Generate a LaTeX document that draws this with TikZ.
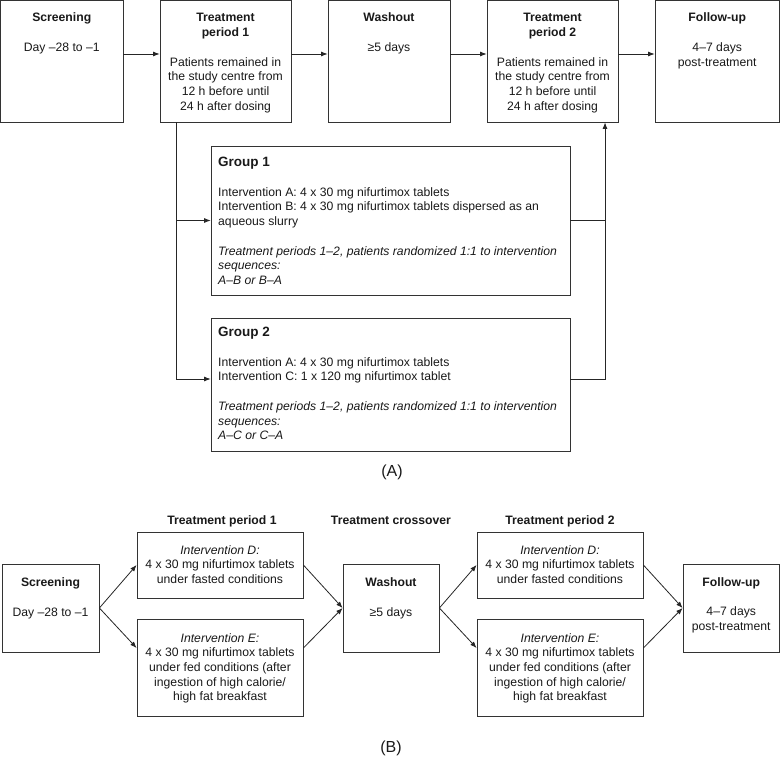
\documentclass[tikz,border=0pt]{standalone}
\usepackage{fontspec}
\setmainfont{Liberation Sans}
\usetikzlibrary{arrows.meta}
\tikzset{
  box/.style={draw=black!80, line width=0.8pt, inner sep=0pt},
  ln/.style={draw=black!85, line width=0.8pt},
  arr/.style={ln, -{Latex[length=6.5pt,width=5pt]}},
  txt/.style={font=\fontsize{12.2}{14.7}\selectfont, anchor=base, align=center, inner sep=0pt, text=black!90},
  ttl/.style={txt, font=\bfseries\fontsize{12.2}{14.7}\selectfont},
  lbl/.style={font=\fontsize{16}{18}\selectfont, anchor=base, inner sep=0pt, text=black!90},
}
\begin{document}
\begin{tikzpicture}[x=1pt,y=-1pt]
\useasboundingbox (0,0) rectangle (780,757);
% multi-line text nodes are placed at the baseline of their LAST line
% ---------- (A) top row ----------
\node[box, minimum width=122.5pt, minimum height=121.5pt] (scr) at (61.75,61.25) {};
\node[box, minimum width=131pt, minimum height=121.5pt] (tp1) at (225.5,61.25) {};
\node[box, minimum width=122pt, minimum height=121.5pt] (wash) at (389,61.25) {};
\node[box, minimum width=131pt, minimum height=121.5pt] (tp2) at (552.5,61.25) {};
\node[box, minimum width=124.5pt, minimum height=121.5pt] (fu) at (717.25,61.25) {};

\node[ttl] (scrT) at (61.75,22) {Screening};
\node[txt] (scrD) at (61.75,52) {Day –28 to –1};
\node[ttl] (tp1T) at (225.5,36.7) {Treatment\\period 1};
\node[txt] (tp1D) at (225.5,110.3) {Patients remained in\\the study centre from\\12 h before until\\24 h after dosing};
\node[ttl] (washT) at (389,22) {Washout};
\node[txt] (washD) at (389,52) {≥5 days};
\node[ttl] (tp2T) at (552.5,36.7) {Treatment\\period 2};
\node[txt] (tp2D) at (552.5,110.3) {Patients remained in\\the study centre from\\12 h before until\\24 h after dosing};
\node[ttl] (fuT) at (717.25,22) {Follow-up};
\node[txt] (fuD) at (717.25,66.5) {4–7 days\\post-treatment};

\coordinate (ay) at (0,54);
\draw[arr] (scr.east |- ay) -- (tp1.west |- ay);
\draw[arr] (tp1.east |- ay) -- (wash.west |- ay);
\draw[arr] (wash.east |- ay) -- (tp2.west |- ay);
\draw[arr] (tp2.east |- ay) -- (fu.west |- ay);

% groups
\node[box, minimum width=359pt, minimum height=149pt] (g1) at (390.5,220.5) {};
\node[box, minimum width=359pt, minimum height=133pt] (g2) at (390.5,384.5) {};

\node[txt, anchor=base west, align=left] (g1T) at (218,284.6) {{\bfseries\fontsize{13.5}{14.7}\selectfont Group 1}\\[15pt]
Intervention A: 4 x 30 mg nifurtimox tablets\\
Intervention B: 4 x 30 mg nifurtimox tablets dispersed as an\\
aqueous slurry\\[15pt]
\textit{Treatment periods 1–2, patients randomized 1:1 to intervention}\\
\textit{sequences:}\\
\textit{A–B or B–A}};
\node[txt, anchor=base west, align=left] (g2T) at (218,439.8) {{\bfseries\fontsize{13.5}{14.7}\selectfont Group 2}\\[15pt]
Intervention A: 4 x 30 mg nifurtimox tablets\\
Intervention C: 1 x 120 mg nifurtimox tablet\\[15pt]
\textit{Treatment periods 1–2, patients randomized 1:1 to intervention}\\
\textit{sequences:}\\
\textit{A–C or C–A}};

\coordinate (lx) at (176,0);
\coordinate (rx) at (605,0);
\coordinate (g2y) at (0,379);
\draw[arr] (tp1.south -| lx) |- (g2.west |- g2y);
\draw[arr] (lx |- g1.west) -- (g1.west);
\draw[arr] (g2.east |- g2y) -| (tp2.south -| rx);
\draw[ln] (g1.east) -- (rx |- g1.east);

\node[lbl] (labA) at (392,476) {(A)};

% ---------- (B) ----------
\node[ttl] (h1) at (222,524) {Treatment period 1};
\node[ttl] (h2) at (391,524) {Treatment crossover};
\node[ttl] (h3) at (560,524) {Treatment period 2};

\node[box, minimum width=97pt, minimum height=88pt] (scrB) at (50.5,608) {};
\node[box, minimum width=166pt, minimum height=66pt] (d1) at (220,565) {};
\node[box, minimum width=166pt, minimum height=97pt] (e1) at (220,667.5) {};
\node[box, minimum width=96pt, minimum height=88pt] (washB) at (391,608) {};
\node[box, minimum width=166pt, minimum height=66pt] (d2) at (560,565) {};
\node[box, minimum width=166pt, minimum height=97pt] (e2) at (560,667.5) {};
\node[box, minimum width=96.5pt, minimum height=88pt] (fuB) at (731.25,608) {};

\node[ttl] (scrBT) at (50.5,586) {Screening};
\node[txt] (scrBD) at (50.5,616) {Day –28 to –1};
\node[txt] (d1T) at (220,583.4) {\textit{Intervention D:}\\4 x 30 mg nifurtimox tablets\\under fasted conditions};
\node[txt] (e1T) at (220,700.8) {\textit{Intervention E:}\\4 x 30 mg nifurtimox tablets\\under fed conditions (after\\ingestion of high calorie/\\high fat breakfast};
\node[ttl] (washBT) at (391,586) {Washout};
\node[txt] (washBD) at (391,616) {≥5 days};
\node[txt] (d2T) at (560,583.4) {\textit{Intervention D:}\\4 x 30 mg nifurtimox tablets\\under fasted conditions};
\node[txt] (e2T) at (560,700.8) {\textit{Intervention E:}\\4 x 30 mg nifurtimox tablets\\under fed conditions (after\\ingestion of high calorie/\\high fat breakfast};
\node[ttl] (fuBT) at (731.25,586) {Follow-up};
\node[txt] (fuBD) at (731.25,630.5) {4–7 days\\post-treatment};

\coordinate (ey) at (0,648);
\draw[arr] (scrB.east) -- (d1.west);
\draw[arr] (scrB.east) -- (e1.west |- ey);
\draw[arr] (d1.east) -- (washB.west);
\draw[arr] (e1.east |- ey) -- (washB.west);
\draw[arr] (washB.east) -- (d2.west);
\draw[arr] (washB.east) -- (e2.west |- ey);
\draw[arr] (d2.east) -- (fuB.west);
\draw[arr] (e2.east |- ey) -- (fuB.west);

\node[lbl] (labB) at (391,752) {(B)};
\end{tikzpicture}
\end{document}
